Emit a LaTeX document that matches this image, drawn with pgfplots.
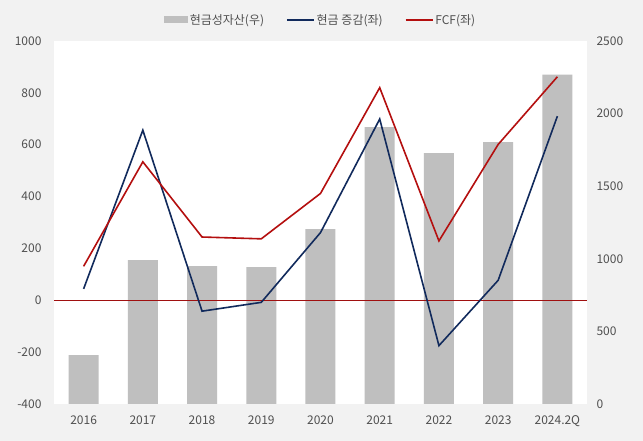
\documentclass[border=0pt]{standalone}
\usepackage{pgfplots}
\pgfplotsset{compat=1.18}
\usetikzlibrary{backgrounds}
\usepackage{fontspec}
\setmainfont{Noto Sans CJK KR}
\definecolor{bg}{HTML}{F2F2F2}
\definecolor{barGray}{HTML}{BFBFBF}
\definecolor{navy}{HTML}{112A5C}
\definecolor{fcfRed}{HTML}{B40F0F}
\definecolor{zeroRed}{HTML}{A01010}
\definecolor{tickGray}{HTML}{505050}
\pgfplotstableread{
x cash
0 337
1 990
2 949
3 942
4 1204
5 1907
6 1728
7 1804
8 2268
}\cashtable
\pgfplotstableread{
x chg fcf
0 44 131
1 656 534
2 -42 244
3 -8 237
4 261 412
5 699 820
6 -175 229
7 77 601
8 710 862
}\linetable
\begin{document}
\begin{tikzpicture}[x=1pt,y=1pt]
\pgfplotsset{
  common/.style={
    width=533pt, height=363pt, scale only axis,
    xmin=-0.5, xmax=8.5,
    axis line style={draw=none},
    tick style={draw=none},
    ticklabel style={font=\fontsize{12}{14}\selectfont, text=tickGray},
  }
}
\begin{axis}[common,
  axis background/.style={fill=white},
  ymin=0, ymax=2500, ytick={0,500,...,2500},
  yticklabel pos=right,
  yticklabel style={anchor=west, xshift=6pt},
  xtick={0,...,8},
  xticklabels={2016,2017,2018,2019,2020,2021,2022,2023,2024.2Q},
  xticklabel style={yshift=-8pt},
  /pgf/number format/assume math mode=true,
  /pgf/number format/1000 sep={},
]
\addplot[ybar, bar width=30pt, fill=barGray, draw=none] table[x=x, y=cash] {\cashtable};
\end{axis}
\begin{axis}[common,
  ymin=-400, ymax=1000, ytick={-400,-200,...,1000},
  yticklabel pos=left,
  yticklabel style={anchor=east, xshift=-9pt},
  xtick=\empty,
  /pgf/number format/assume math mode=true,
  /pgf/number format/1000 sep={},
  legend style={at={(0.5,1.058)}, anchor=center, draw=none, fill=none,
    font=\fontsize{12}{14}\selectfont, text=tickGray,
    /tikz/every even column/.append style={column sep=20pt}},
  legend columns=3,
  legend image code/.code={\draw[#1] (0pt,0pt) -- (27pt,0pt);},
]
\addlegendimage{area legend, fill=barGray, draw=none, legend image code/.code={\fill[barGray] (0pt,-3.5pt) rectangle (24pt,3.5pt);}}
\addlegendentry{현금성자산(우)}
\addplot[zeroRed, line width=0.9pt, forget plot] coordinates {(-0.5,0) (8.5,0)};
\addplot[navy, line width=1.6pt, mark=none] table[x=x, y=chg] {\linetable};
\addlegendentry{현금 증감(좌)}
\addplot[fcfRed, line width=1.6pt, mark=none] table[x=x, y=fcf] {\linetable};
\addlegendentry{FCF(좌)}
\end{axis}
\begin{scope}[on background layer]
\fill[bg] (-54,-37) rectangle (589,404);
\end{scope}
\pgfresetboundingbox
\path[use as bounding box] (-54,-37) rectangle (589,404);
\end{tikzpicture}
\end{document}
